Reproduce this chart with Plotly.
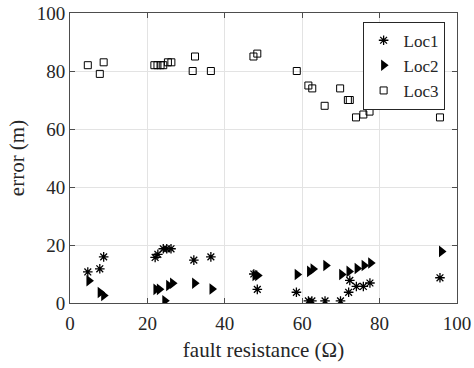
import plotly.graph_objects as go

# Fault resistance (ohm) and location error (m) for three fault locations
loc1_r = [4.6, 7.7, 8.7, 22.0, 22.7, 24.1, 25.0, 26.1, 32.0, 36.4, 47.5, 48.4,
          58.5, 61.6, 62.5, 65.9, 69.9, 72.0, 72.3, 74.0, 75.8, 77.5, 95.6]
loc1_err = [10.7, 11.8, 15.9, 15.7, 16.8, 18.7, 18.7, 18.7, 14.8, 15.9, 10.0, 4.7,
            3.7, 0.7, 0.7, 0.7, 0.7, 3.7, 7.8, 5.7, 5.7, 6.9, 8.7]

loc2_r = [4.9, 7.8, 8.7, 22.2, 23.1, 24.5, 25.5, 26.5, 32.2, 36.7, 47.8, 48.5,
          58.7, 61.9, 62.8, 66.1, 70.2, 72.1, 74.2, 76.0, 77.7, 96.0]
loc2_err = [7.7, 3.6, 2.6, 4.7, 4.7, 0.8, 6.0, 6.8, 6.8, 4.8, 9.5, 9.5,
            9.8, 10.9, 11.7, 12.9, 9.8, 10.9, 11.9, 12.9, 13.8, 17.8]

loc3_r = [4.6, 7.7, 8.7, 21.8, 22.6, 23.4, 24.1, 25.3, 26.2, 31.7, 32.3, 36.4,
          47.4, 48.4, 58.6, 61.6, 62.6, 65.8, 69.8, 71.8, 72.3, 73.9, 75.8, 77.4, 95.6]
loc3_err = [82, 79, 83, 82, 82, 82, 82, 83, 83, 80, 85, 80,
            85, 86, 80, 75, 74, 68, 74, 70, 70, 64, 65, 66, 64]

x_ticks = [0, 20, 40, 60, 80, 100]
y_ticks = [0, 20, 40, 60, 80, 100]

serif = "Liberation Serif"
ink = "#262626"

fig = go.Figure()
fig.add_trace(go.Scatter(
    x=loc1_r, y=loc1_err, mode="markers", name="Loc1",
    marker=dict(symbol="asterisk-open", size=8, color="black",
                line=dict(color="black", width=1.3)),
))
fig.add_trace(go.Scatter(
    x=loc2_r, y=loc2_err, mode="markers", name="Loc2",
    marker=dict(symbol="triangle-right", size=10, color="black",
                line=dict(width=0)),
))
fig.add_trace(go.Scatter(
    x=loc3_r, y=loc3_err, mode="markers", name="Loc3",
    marker=dict(symbol="square-open", size=7, color="black",
                line=dict(color="black", width=1)),
))

axis_common = dict(
    showgrid=True, gridcolor="#e3e3e3", gridwidth=1,
    showline=True, linecolor="#4d4d4d", linewidth=1, mirror="ticks",
    ticks="inside", ticklen=5, tickcolor="#4d4d4d",
    tickfont=dict(family=serif, size=19, color=ink),
    zeroline=False, automargin=False,
)

fig.update_layout(
    width=474, height=368,
    margin=dict(l=70, r=17, t=13, b=65),
    paper_bgcolor="white", plot_bgcolor="white",
    showlegend=True,
    legend=dict(
        x=0.968, y=0.97, xanchor="right", yanchor="top",
        bgcolor="white", bordercolor=ink, borderwidth=1,
        font=dict(family=serif, size=17, color=ink),
        itemwidth=30, tracegroupgap=0,
    ),
    xaxis=dict(
        range=[0, 100], tickvals=x_ticks, ticklabelstandoff=3,
        title=dict(text="fault resistance (Ω)", standoff=9,
                   font=dict(family=serif, size=21, color=ink)),
        **axis_common,
    ),
    yaxis=dict(
        range=[0, 100], tickvals=y_ticks,
        title=dict(text="error (m)", standoff=6,
                   font=dict(family=serif, size=21, color=ink)),
        **axis_common,
    ),
)

fig.write_html("out.html")
